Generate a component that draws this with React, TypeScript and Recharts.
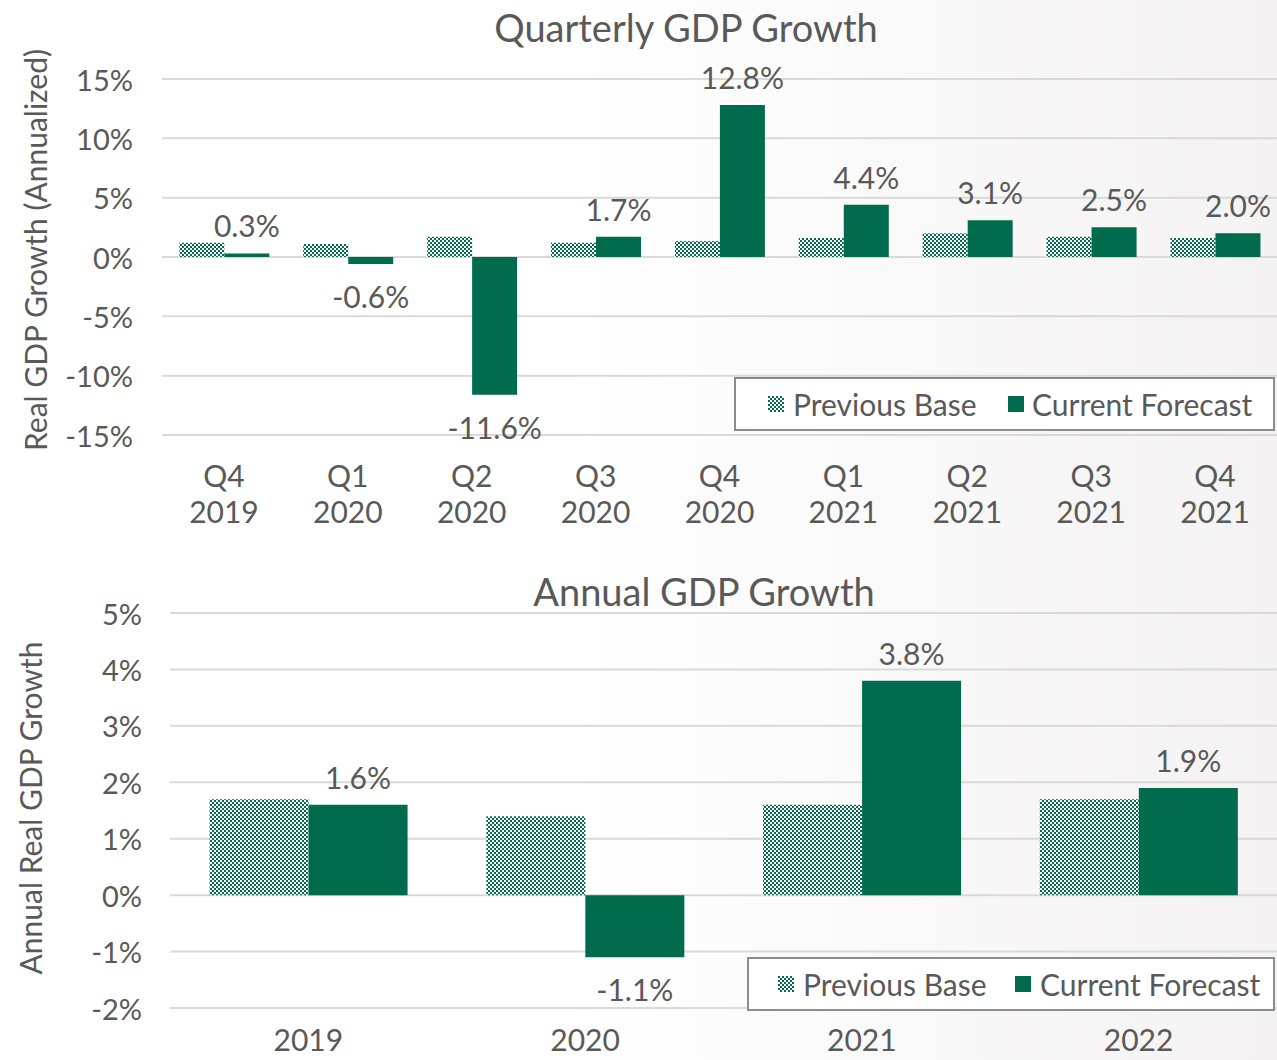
import { BarChart, Bar, XAxis, YAxis, CartesianGrid, LabelList } from "recharts";

const quarterCats = ["Q4 2019", "Q1 2020", "Q2 2020", "Q3 2020", "Q4 2020", "Q1 2021", "Q2 2021", "Q3 2021", "Q4 2021"];
const quarterPrev = [1.2, 1.1, 1.7, 1.2, 1.35, 1.6, 2.0, 1.7, 1.6];
const quarterCur = [0.3, -0.6, -11.6, 1.7, 12.8, 4.4, 3.1, 2.5, 2.0];
const quarterTicks = [-15, -10, -5, 0, 5, 10, 15];

const yearCats = ["2019", "2020", "2021", "2022"];
const yearPrev = [1.7, 1.4, 1.6, 1.7];
const yearCur = [1.6, -1.1, 3.8, 1.9];
const yearTicks = [-2, -1, 0, 1, 2, 3, 4, 5];

const GREEN = "#006b4d";
const TEXT = "#595959";
const FONT = "Lato, 'Open Sans', sans-serif";

const quarterData = quarterCats.map((c, i) => ({ cat: c, prev: quarterPrev[i], cur: quarterCur[i] }));
const yearData = yearCats.map((c, i) => ({ cat: c, prev: yearPrev[i], cur: yearCur[i] }));

function Checker({ id }: { id: string }) {
  return (
    <defs>
      <pattern id={id} width="4" height="4" patternUnits="userSpaceOnUse">
        <rect width="4" height="4" fill="#fff" />
        <rect x="0" y="0" width="2" height="2" fill={GREEN} />
        <rect x="2" y="2" width="2" height="2" fill={GREEN} />
      </pattern>
    </defs>
  );
}

function valueLabel(props: any) {
  const { x, y, width, height, value } = props;
  const top = Math.min(y, y + height);
  const bottom = Math.max(y, y + height);
  const ly = value >= 0 ? top - 28 : bottom + 32;
  return (
    <text x={x + width / 2} y={ly} textAnchor="middle" dominantBaseline="central" fill={TEXT} fontSize={30} fontFamily={FONT}>
      {value.toFixed(1)}%
    </text>
  );
}

function LegendBox({ left, width, sq1, tx1, sq2, tx2, id }: any) {
  return (
    <div style={{ position: "absolute", left, width, height: 54, border: "2px solid #8c8c8c", background: "#fff", boxSizing: "border-box", fontFamily: FONT, fontSize: 30, color: TEXT }}>
      <svg width={20} height={20} style={{ position: "absolute", left: sq1, top: 17 }}>
        <defs>
          <pattern id={id} width="4" height="4" patternUnits="userSpaceOnUse">
            <rect width="4" height="4" fill="#fff" />
            <rect x="0" y="0" width="2" height="2" fill={GREEN} />
            <rect x="2" y="2" width="2" height="2" fill={GREEN} />
          </pattern>
        </defs>
        <rect width={16} height={16} fill={`url(#${id})`} />
      </svg>
      <span style={{ position: "absolute", left: tx1, top: 8, lineHeight: "34px" }}>Previous Base</span>
      <div style={{ position: "absolute", left: sq2, top: 17, width: 16, height: 16, background: GREEN }} />
      <span style={{ position: "absolute", left: tx2, top: 8, lineHeight: "34px" }}>Current Forecast</span>
    </div>
  );
}

export default function App() {
  return (
    <div style={{ position: "absolute", left: 0, top: 0, width: 1277, height: 1060, overflow: "hidden", background: "linear-gradient(to right, #ffffff 45%, #f4f2f2 100%)", fontFamily: FONT }}>
      <div style={{ position: "absolute", left: 0, width: 1372, top: 5, textAlign: "center", fontSize: 38, color: TEXT, lineHeight: "44px" }}>
        Quarterly GDP Growth
      </div>
      <div style={{ position: "absolute", left: 0, top: 0 }}>
        <BarChart width={1277} height={540} data={quarterData} margin={{ top: 79, right: 0, left: 0, bottom: 15 }} barCategoryGap="14%" barGap={0}>
          <Checker id="chk1" />
          <CartesianGrid vertical={false} stroke="#d9d9d9" strokeWidth={2} />
          <XAxis
            dataKey="cat"
            height={90}
            axisLine={false}
            tickLine={false}
            interval={0}
            tick={(p: any) => {
              const [a, b] = String(p.payload.value).split(" ");
              return (
                <text x={p.x} y={475} textAnchor="middle" fill={TEXT} fontSize={30} fontFamily={FONT}>
                  <tspan x={p.x} dominantBaseline="central">{a}</tspan>
                  <tspan x={p.x} dy={36} dominantBaseline="central">{b}</tspan>
                </text>
              );
            }}
          />
          <YAxis
            width={162}
            domain={[-15, 15]}
            ticks={quarterTicks}
            axisLine={false}
            tickLine={false}
            tick={(p: any) => (
              <text x={133} y={p.y} textAnchor="end" dominantBaseline="central" fill={TEXT} fontSize={29} fontFamily={FONT}>
                {p.payload.value}%
              </text>
            )}
            label={{
              content: () => (
                <text x={35} y={250} transform="rotate(-90 35 250)" textAnchor="middle" dominantBaseline="central" fill={TEXT} fontSize={30} fontFamily={FONT}>
                  Real GDP Growth (Annualized)
                </text>
              ),
            }}
          />
          <Bar dataKey="prev" fill="url(#chk1)" isAnimationActive={false} />
          <Bar dataKey="cur" fill={GREEN} isAnimationActive={false}>
            <LabelList dataKey="cur" content={valueLabel} />
          </Bar>
        </BarChart>
      </div>
      <div style={{ position: "absolute", top: 377 }}>
        <LegendBox left={734} width={541} sq1={32} tx1={57} sq2={272} tx2={296} id="lg1" />
      </div>

      <div style={{ position: "absolute", left: 0, width: 1408, top: 569, textAlign: "center", fontSize: 38, color: TEXT, lineHeight: "44px" }}>
        Annual GDP Growth
      </div>
      <div style={{ position: "absolute", left: 0, top: 550 }}>
        <BarChart width={1277} height={510} data={yearData} margin={{ top: 63, right: 0, left: 0, bottom: 0 }} barCategoryGap="14.3%" barGap={0}>
          <Checker id="chk2" />
          <CartesianGrid vertical={false} stroke="#d9d9d9" strokeWidth={2} />
          <XAxis
            dataKey="cat"
            height={52}
            axisLine={false}
            tickLine={false}
            interval={0}
            tick={(p: any) => (
              <text x={p.x} y={489} textAnchor="middle" dominantBaseline="central" fill={TEXT} fontSize={30} fontFamily={FONT}>
                {p.payload.value}
              </text>
            )}
          />
          <YAxis
            width={170}
            domain={[-2, 5]}
            ticks={yearTicks}
            axisLine={false}
            tickLine={false}
            tick={(p: any) => (
              <text x={142} y={p.y} textAnchor="end" dominantBaseline="central" fill={TEXT} fontSize={29} fontFamily={FONT}>
                {p.payload.value}%
              </text>
            )}
            label={{
              content: () => (
                <text x={30} y={258} transform="rotate(-90 30 258)" textAnchor="middle" dominantBaseline="central" fill={TEXT} fontSize={30} fontFamily={FONT}>
                  Annual Real GDP Growth
                </text>
              ),
            }}
          />
          <Bar dataKey="prev" fill="url(#chk2)" isAnimationActive={false} />
          <Bar dataKey="cur" fill={GREEN} isAnimationActive={false}>
            <LabelList dataKey="cur" content={valueLabel} />
          </Bar>
        </BarChart>
      </div>
      <div style={{ position: "absolute", top: 957 }}>
        <LegendBox left={747} width={528} sq1={29} tx1={54} sq2={266} tx2={291} id="lg2" />
      </div>
    </div>
  );
}
